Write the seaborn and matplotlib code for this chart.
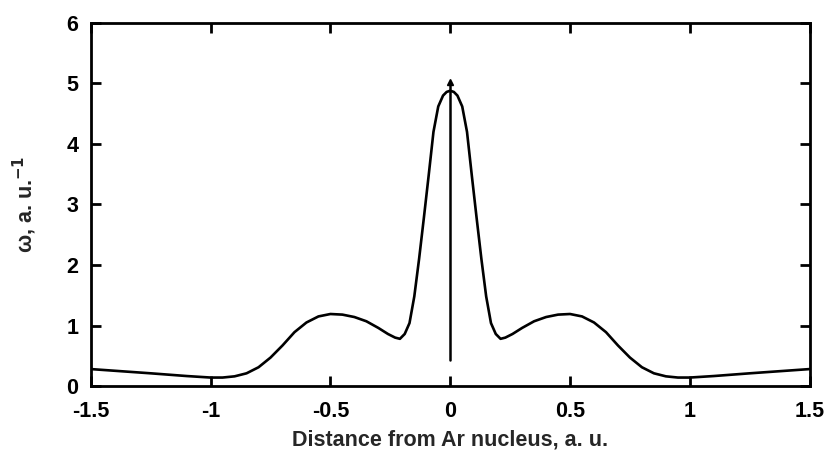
import numpy as np
import pandas as pd
import matplotlib
matplotlib.use("Agg")
import matplotlib.pyplot as plt
import seaborn as sns

# ── Data ─────────────────────────────────────────────────────────────────────
distance = [-1.5, -1.25, -1.1, -1.0, -0.95, -0.9, -0.85, -0.8, -0.75, -0.7,
            -0.65, -0.6, -0.55, -0.5, -0.45, -0.4, -0.35, -0.3, -0.26, -0.23,
            -0.21, -0.19, -0.17, -0.15, -0.13, -0.11, -0.09, -0.07, -0.05, -0.03,
            -0.015, 0.0,
            0.015, 0.03, 0.05, 0.07, 0.09, 0.11, 0.13, 0.15, 0.17, 0.19,
            0.21, 0.23, 0.26, 0.3, 0.35, 0.4, 0.45, 0.5, 0.55, 0.6,
            0.65, 0.7, 0.75, 0.8, 0.85, 0.9, 0.95, 1.0, 1.1, 1.25, 1.5]
omega = [0.28, 0.21, 0.165, 0.14, 0.14, 0.16, 0.21, 0.31, 0.47, 0.67,
         0.89, 1.05, 1.15, 1.19, 1.18, 1.14, 1.07, 0.96, 0.86, 0.80,
         0.78, 0.86, 1.04, 1.48, 2.10, 2.78, 3.48, 4.20, 4.62, 4.80,
         4.86, 4.88,
         4.86, 4.80, 4.62, 4.20, 3.48, 2.78, 2.10, 1.48, 1.04, 0.86,
         0.78, 0.80, 0.86, 0.96, 1.07, 1.14, 1.18, 1.19, 1.15, 1.05,
         0.89, 0.67, 0.47, 0.31, 0.21, 0.16, 0.14, 0.14, 0.165, 0.21, 0.28]

# nuclear cusp spike at the origin
spike_x = [0.0, 0.0]
spike_y = [0.43, 5.03]

x_ticks = [-1.5, -1, -0.5, 0, 0.5, 1, 1.5]
x_tick_labels = ["-1.5", "-1", "-0.5", "0", "0.5", "1", "1.5"]
y_ticks = [0, 1, 2, 3, 4, 5, 6]

# ── Style ────────────────────────────────────────────────────────────────────
sns.set_style("ticks")
plt.rcParams["font.family"] = ["Liberation Sans", "DejaVu Sans"]
plt.rcParams["font.weight"] = "bold"
plt.rcParams["mathtext.default"] = "bf"

df = pd.DataFrame({"distance": distance, "omega": omega})

fig = plt.figure(figsize=(8.33, 4.59), dpi=100)
ax = fig.add_axes([0.109, 0.159, 0.863, 0.791])

sns.lineplot(data=df, x="distance", y="omega", sort=False, color="black",
             linewidth=1.9, ax=ax)
ax.plot(spike_x, spike_y, color="black", linewidth=1.8,
        solid_capstyle="round")
ax.plot(spike_x[1:], spike_y[1:], marker="^", markersize=5, color="black")

ax.set_xlim(-1.5, 1.5)
ax.set_ylim(0, 6)
ax.set_xticks(x_ticks)
ax.set_xticklabels(x_tick_labels)
ax.set_yticks(y_ticks)

for side in ["top", "right", "bottom", "left"]:
    ax.spines[side].set_visible(True)
    ax.spines[side].set_linewidth(2.0)
    ax.spines[side].set_color("black")

ax.tick_params(direction="in", length=7, width=2, top=True, right=True,
               labelsize=15.5, colors="black")
ax.tick_params(axis="x", pad=11)
ax.tick_params(axis="y", pad=9)

ax.set_xlabel("Distance from Ar nucleus, a. u.", fontsize=15.5,
              fontweight="bold", labelpad=5)
ax.set_ylabel("ω, a. u.$^{-1}$", fontsize=15.5, fontweight="bold",
              labelpad=20)

fig.savefig("out.png", dpi=100)
plt.close(fig)
